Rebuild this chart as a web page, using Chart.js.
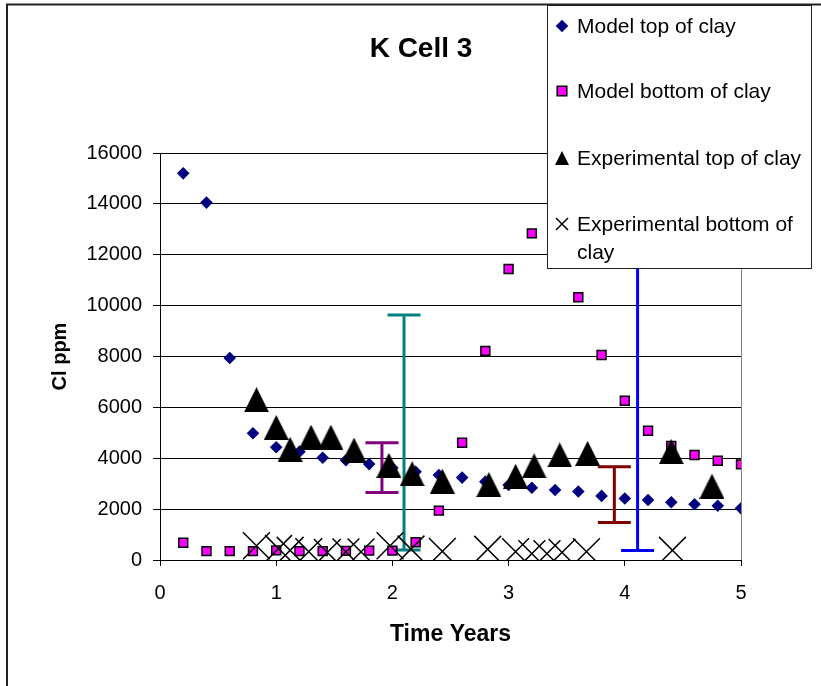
<!DOCTYPE html>
<html>
<head>
<meta charset="utf-8">
<title>K Cell 3</title>
<script src="https://cdn.jsdelivr.net/npm/chart.js@4.4.0/dist/chart.umd.min.js"></script>
<style>
  html, body { margin: 0; padding: 0; background: #fff; }
  #chart { display: block; }
</style>
</head>
<body>
<canvas id="chart" width="821" height="686"></canvas>
<script>
// Model output, every 0.2 years
const modelYears = [0.2, 0.4, 0.6, 0.8, 1.0, 1.2, 1.4, 1.6, 1.8, 2.0, 2.2, 2.4, 2.6,
                    2.8, 3.0, 3.2, 3.4, 3.6, 3.8, 4.0, 4.2, 4.4, 4.6, 4.8, 5.0];
const modelTop = [15200, 14050, 7940, 4980, 4430, 4260, 4020, 3920, 3770, 3620, 3470, 3340, 3240,
                  3080, 2950, 2840, 2750, 2690, 2520, 2420, 2360, 2270, 2190, 2130, 2030];
const modelBottom = [680, 350, 350, 350, 380, 350, 350, 360, 370, 370, 700, 1940, 4610,
                     8220, 11440, 12840, 12300, 10330, 8060, 6260, 5080, 4480, 4130, 3900, 3760];

// Measured values
const expTopYears = [0.83, 1.0, 1.12, 1.3, 1.47, 1.67, 1.97, 2.17, 2.43, 2.83, 3.06, 3.22, 3.44, 3.68, 4.4, 4.75];
const expTop = [6300, 5210, 4350, 4830, 4830, 4320, 3720, 3390, 3100, 2970, 3290, 3700, 4130, 4190, 4260, 2900];
const expBottomYears = [0.83, 1.02, 1.12, 1.28, 1.44, 1.6, 1.73, 1.98, 2.16, 2.43, 2.82, 3.06, 3.2, 3.33, 3.46, 3.67, 4.41];
const expBottom = [560, 450, 380, 330, 300, 320, 320, 560, 430, 340, 420, 330, 250, 250, 300, 330, 380];

// Error bars (range of measurements)
const errYears = [1.91, 2.10, 3.91, 4.11];
const errLow = [2650, 390, 1470, 370];
const errHigh = [4610, 9630, 3670, 14500];
const errColors = ['#800080', '#008080', '#800000', '#0000ff'];

const xTicks = [0, 1, 2, 3, 4, 5];
const yTicks = [0, 2000, 4000, 6000, 8000, 10000, 12000, 14000, 16000];

const FONT = '"Liberation Sans", Arial, sans-serif';
Chart.defaults.font.family = FONT;
Chart.defaults.color = '#000';

function toPoints(xs, ys) {
    return xs.map((x, i) => ({ x: x, y: ys[i] }));
}

// Excel-like triangle marker (value sits at the middle of its box)
function makeTriangle(w, h) {
    const c = document.createElement('canvas');
    c.width = w;
    c.height = h;
    const g = c.getContext('2d');
    g.fillStyle = '#000';
    g.beginPath();
    g.moveTo(w / 2, 0);
    g.lineTo(w, h);
    g.lineTo(0, h);
    g.closePath();
    g.fill();
    return c;
}
const triangleMarker = makeTriangle(25, 25);

// Draw the error bars under the markers
const errorBarPlugin = {
    id: 'errorBars',
    beforeDatasetsDraw(chart) {
        const { ctx, scales: { x, y } } = chart;
        ctx.save();
        ctx.lineWidth = 3;
        errYears.forEach((yr, i) => {
            const px = x.getPixelForValue(yr);
            const lo = y.getPixelForValue(errLow[i]);
            const hi = y.getPixelForValue(errHigh[i]);
            ctx.strokeStyle = errColors[i];
            ctx.beginPath();
            ctx.moveTo(px, lo);
            ctx.lineTo(px, hi);
            ctx.moveTo(px - 16.5, lo);
            ctx.lineTo(px + 16.5, lo);
            ctx.moveTo(px - 16.5, hi);
            ctx.lineTo(px + 16.5, hi);
            ctx.stroke();
        });
        ctx.restore();
    }
};

// Title, boxed legend and outer frame
const framePlugin = {
    id: 'frame',
    afterDraw(chart) {
        const ctx = chart.ctx;
        ctx.save();

        // title
        ctx.fillStyle = '#000';
        ctx.font = 'bold 28px ' + FONT;
        ctx.textAlign = 'center';
        ctx.textBaseline = 'alphabetic';
        ctx.fillText('K Cell 3', 421, 57);

        // outer frame
        ctx.strokeStyle = '#222';
        ctx.lineWidth = 2;
        ctx.beginPath();
        ctx.moveTo(7, 686);
        ctx.lineTo(7, 4.5);
        ctx.lineTo(821, 4.5);
        ctx.stroke();

        // legend box
        ctx.fillStyle = '#fff';
        ctx.fillRect(547.5, 5.5, 264, 263);
        ctx.strokeStyle = '#222';
        ctx.lineWidth = 1;
        ctx.strokeRect(547.5, 5.5, 264, 263);

        const rows = [26, 91, 158, 224];
        ctx.font = '21px ' + FONT;
        ctx.textAlign = 'left';
        chart.data.datasets.forEach((ds, i) => {
            const mx = 562, my = rows[i];
            ctx.beginPath();
            if (i === 0) {
                ctx.fillStyle = ds.backgroundColor;
                ctx.moveTo(mx - 6.3, my);
                ctx.lineTo(mx, my - 6.3);
                ctx.lineTo(mx + 6.3, my);
                ctx.lineTo(mx, my + 6.3);
                ctx.closePath();
                ctx.fill();
            } else if (i === 1) {
                ctx.fillStyle = ds.backgroundColor;
                ctx.strokeStyle = '#000';
                ctx.lineWidth = 1.5;
                ctx.rect(mx - 4.8, my - 4.8, 9.6, 9.6);
                ctx.fill();
                ctx.stroke();
            } else if (i === 2) {
                ctx.fillStyle = '#000';
                ctx.moveTo(mx, my - 7);
                ctx.lineTo(mx + 7, my + 7);
                ctx.lineTo(mx - 7, my + 7);
                ctx.closePath();
                ctx.fill();
            } else {
                ctx.strokeStyle = '#000';
                ctx.lineWidth = 1.5;
                ctx.moveTo(mx - 6, my - 6);
                ctx.lineTo(mx + 6, my + 6);
                ctx.moveTo(mx + 6, my - 6);
                ctx.lineTo(mx - 6, my + 6);
                ctx.stroke();
            }

            // wrap long labels inside the box
            ctx.fillStyle = '#000';
            const words = ds.label.split(' ');
            let line = '';
            let by = my + 7;
            words.forEach(w => {
                const test = line ? line + ' ' + w : w;
                if (ctx.measureText(test).width > 228 && line) {
                    ctx.fillText(line, 577, by);
                    line = w;
                    by += 28;
                } else {
                    line = test;
                }
            });
            ctx.fillText(line, 577, by);
        });
        ctx.restore();
    }
};

new Chart(document.getElementById('chart'), {
    type: 'scatter',
    data: {
        datasets: [
            {
                label: 'Model top of clay',
                data: toPoints(modelYears, modelTop),
                pointStyle: 'rectRot',
                pointRadius: 6.3,
                backgroundColor: '#000080',
                borderColor: '#000080',
                borderWidth: 0,
                order: 4
            },
            {
                label: 'Model bottom of clay',
                data: toPoints(modelYears, modelBottom),
                pointStyle: 'rect',
                pointRadius: 6.3,
                backgroundColor: '#ff00ff',
                borderColor: '#000',
                borderWidth: 1.5,
                order: 3
            },
            {
                label: 'Experimental top of clay',
                data: toPoints(expTopYears, expTop),
                pointStyle: triangleMarker,
                pointRadius: 12,
                backgroundColor: '#000',
                borderColor: '#000',
                order: 2
            },
            {
                label: 'Experimental bottom of clay',
                data: toPoints(expBottomYears, expBottom),
                pointStyle: 'crossRot',
                pointRadius: 19,
                backgroundColor: '#000',
                borderColor: '#000',
                borderWidth: 1.5,
                order: 1
            }
        ]
    },
    options: {
        responsive: false,
        animation: false,
        events: [],
        layout: { padding: { top: 153, right: 80, left: 0, bottom: 0 } },
        plugins: {
            legend: { display: false },
            title: { display: false },
            tooltip: { enabled: false }
        },
        scales: {
            x: {
                type: 'linear',
                min: 0,
                max: 5,
                afterBuildTicks: s => { s.ticks = xTicks.map(v => ({ value: v })); },
                afterFit: s => { s.height = 126; },
                grid: {
                    color: c => (c.tick && c.tick.value === 5) ? '#808080' : 'rgba(0,0,0,0)',
                    tickColor: '#000',
                    tickLength: 6
                },
                border: { display: true, color: '#000', width: 1 },
                ticks: { font: { size: 20 }, padding: 15, color: '#000', maxRotation: 0, callback: v => String(v) },
                title: {
                    display: true,
                    text: 'Time Years',
                    font: { size: 23, weight: 'bold' },
                    color: '#000',
                    padding: { top: 0, bottom: 38 }
                }
            },
            y: {
                type: 'linear',
                min: 0,
                max: 16000,
                afterBuildTicks: s => { s.ticks = yTicks.map(v => ({ value: v })); },
                afterFit: s => { s.width = 160; },
                grid: { color: '#000', tickColor: '#000', tickLength: 7 },
                border: { display: true, color: '#000', width: 1 },
                ticks: { font: { size: 20 }, padding: 11, color: '#000', callback: v => String(v) },
                title: {
                    display: true,
                    text: 'Cl ppm',
                    font: { size: 20, weight: 'bold' },
                    color: '#000',
                    padding: { top: 48, bottom: 0 }
                }
            }
        }
    },
    plugins: [errorBarPlugin, framePlugin]
});
</script>
</body>
</html>
